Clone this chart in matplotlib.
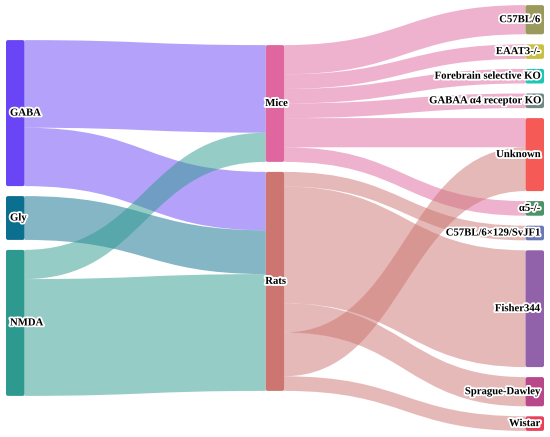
import matplotlib
matplotlib.use('Agg')
import matplotlib.pyplot as plt
from matplotlib.patches import PathPatch, FancyBboxPatch
from matplotlib.path import Path
import matplotlib.patheffects as pe

# ---- nodes, column by column (top to bottom) ----
left_nodes = ['GABA', 'Gly', 'NMDA']
mid_nodes = ['Mice', 'Rats']
right_nodes = ['C57BL/6', 'EAAT3-/-', 'Forebrain selective KO', 'GABAA α4 receptor KO',
               'Unknown', 'α5-/-', 'C57BL/6×129/SvJF1', 'Fisher344', 'Sprague-Dawley', 'Wistar']

node_colors = {
    'GABA': '#6a45f6', 'Gly': '#0b6f8f', 'NMDA': '#2e9a8f',
    'Mice': '#e0669f', 'Rats': '#cc7571',
    'C57BL/6': '#9a9a5c', 'EAAT3-/-': '#c9bf45', 'Forebrain selective KO': '#1fc6b6',
    'GABAA α4 receptor KO': '#6f8886', 'Unknown': '#f65a57', 'α5-/-': '#4c9468',
    'C57BL/6×129/SvJF1': '#6c79b9', 'Fisher344': '#9162a9', 'Sprague-Dawley': '#b9488a',
    'Wistar': '#e9415b',
}

# ---- links (order = stacking order at each node) ----
link_src = ['GABA', 'GABA', 'Gly', 'NMDA', 'NMDA',
            'Mice', 'Mice', 'Mice', 'Mice', 'Mice', 'Mice',
            'Rats', 'Rats', 'Rats', 'Rats', 'Rats']
link_tgt = ['Mice', 'Rats', 'Rats', 'Mice', 'Rats',
            'C57BL/6', 'EAAT3-/-', 'Forebrain selective KO', 'GABAA α4 receptor KO', 'Unknown', 'α5-/-',
            'C57BL/6×129/SvJF1', 'Fisher344', 'Sprague-Dawley', 'Unknown', 'Wistar']
link_val = [6, 4, 3, 2, 8,
            2, 1, 1, 1, 2, 1,
            1, 8, 2, 3, 1]

# ---- layout (pixels) ----
W, H = 550, 437
UNIT = 14.6      # px per unit of flow
GAP = 10         # px between nodes
CY = 218         # vertical centre of every column
THICK = 18.5
X_LEFT, X_RIGHT = 6, 544
columns = [left_nodes, mid_nodes, right_nodes]

node_val = {}
for s, t, v in zip(link_src, link_tgt, link_val):
    node_val[s] = node_val.get(s, 0)
    node_val[t] = node_val.get(t, 0)
out_sum, in_sum = {}, {}
for s, t, v in zip(link_src, link_tgt, link_val):
    out_sum[s] = out_sum.get(s, 0) + v
    in_sum[t] = in_sum.get(t, 0) + v
for n in node_val:
    node_val[n] = max(out_sum.get(n, 0), in_sum.get(n, 0))

node_x, node_y0, node_y1 = {}, {}, {}
step = (X_RIGHT - THICK - X_LEFT) / (len(columns) - 1)
for ci, col in enumerate(columns):
    total = sum(node_val[n] for n in col) * UNIT + GAP * (len(col) - 1)
    y = CY - total / 2
    for n in col:
        node_x[n] = X_LEFT + ci * step
        node_y0[n] = y
        node_y1[n] = y + node_val[n] * UNIT
        y = node_y1[n] + GAP

fig = plt.figure(figsize=(5.5, 4.37), dpi=100)
ax = fig.add_axes([0, 0, 1, 1])
ax.set_xlim(0, W)
ax.set_ylim(H, 0)
ax.axis('off')

# links
src_off = {n: node_y0[n] for n in node_val}
tgt_off = {n: node_y0[n] for n in node_val}
for s, t, v in zip(link_src, link_tgt, link_val):
    h = v * UNIT
    xs = node_x[s] + THICK
    xt = node_x[t]
    xm = (xs + xt) / 2
    ys0, yt0 = src_off[s], tgt_off[t]
    src_off[s] += h
    tgt_off[t] += h
    ys1, yt1 = ys0 + h, yt0 + h
    verts = [(xs, ys0), (xm, ys0), (xm, yt0), (xt, yt0),
             (xt, yt1), (xm, yt1), (xm, ys1), (xs, ys1), (xs, ys0)]
    codes = [Path.MOVETO, Path.CURVE4, Path.CURVE4, Path.CURVE4,
             Path.LINETO, Path.CURVE4, Path.CURVE4, Path.CURVE4, Path.CLOSEPOLY]
    ax.add_patch(PathPatch(Path(verts, codes), facecolor=node_colors[s],
                           edgecolor='none', alpha=0.5, zorder=1))

# nodes + labels
outline = [pe.withStroke(linewidth=2.6, foreground='white')]
for ci, col in enumerate(columns):
    for n in col:
        ax.add_patch(FancyBboxPatch((node_x[n], node_y0[n]), THICK, node_y1[n] - node_y0[n],
                                    boxstyle='round,pad=0,rounding_size=2',
                                    facecolor=node_colors[n], edgecolor='none', zorder=2))
        yc = (node_y0[n] + node_y1[n]) / 2
        if ci == 2:
            tx, ha = node_x[n] + THICK - 4, 'right'
        elif ci == 1:
            tx, ha = node_x[n] - 0.5, 'left'
        else:
            tx, ha = node_x[n] + 4, 'left'
        ax.text(tx, yc, n, ha=ha, va='center', fontsize=7.7, fontweight='bold',
                family=['Liberation Serif', 'DejaVu Serif'], color='black',
                path_effects=outline, zorder=3)

fig.savefig('out.png', dpi=100)
